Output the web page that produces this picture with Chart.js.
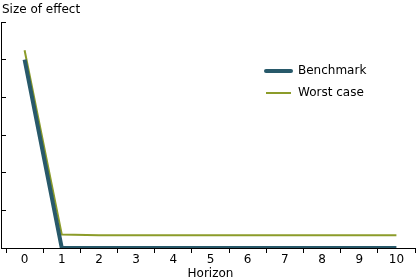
<!DOCTYPE html>
<html>
<head>
<meta charset="utf-8">
<script src="https://cdn.jsdelivr.net/npm/chart.js@4"></script>
<style>
  html, body { margin: 0; padding: 0; background: #fff; }
  #wrap { width: 420px; height: 280px; }
</style>
</head>
<body>
<div id="wrap"><canvas id="effectChart"></canvas></div>
<script>
// data
const horizon = ["0", "1", "2", "3", "4", "5", "6", "7", "8", "9", "10"];
const benchmark = [5, 0, 0, 0, 0, 0, 0, 0, 0, 0, 0];
const worstCase = [5.25, 0.36, 0.34, 0.34, 0.34, 0.34, 0.34, 0.34, 0.34, 0.34, 0.34];

const fontFamily = 'Verdana, "DejaVu Sans", sans-serif';

// title and legend text drawn on the canvas
const decorations = {
    id: 'decorations',
    afterDraw(chart) {
        const c = chart.ctx;
        c.save();
        c.fillStyle = '#000';
        c.font = '12px ' + fontFamily;
        c.textBaseline = 'middle';
        c.textAlign = 'left';
        c.fillText('Size of effect', 2, 10);

        // legend
        chart.data.datasets.forEach(function(ds, i) {
            const y = 71 + i * 22;
            c.strokeStyle = ds.borderColor;
            c.lineWidth = ds.borderWidth;
            c.lineCap = i === 0 ? 'round' : 'butt';
            c.beginPath();
            c.moveTo(266, y);
            c.lineTo(291, y);
            c.stroke();
            c.fillStyle = '#000';
            c.fillText(ds.label, 298, y);
        });
        c.restore();
    }
};

new Chart(document.getElementById('effectChart'), {
    type: 'line',
    data: {
        labels: horizon,
        datasets: [
            {
                label: 'Benchmark',
                data: benchmark,
                borderColor: '#28596a',
                borderWidth: 4,
                pointRadius: 0,
                tension: 0
            },
            {
                label: 'Worst case',
                data: worstCase,
                borderColor: '#8c9c2a',
                borderWidth: 2,
                pointRadius: 0,
                tension: 0
            }
        ]
    },
    options: {
        responsive: true,
        maintainAspectRatio: false,
        animation: false,
        layout: { padding: { top: 22, right: 5, left: 6, bottom: 0 } },
        plugins: {
            legend: { display: false },
            tooltip: { enabled: false }
        },
        scales: {
            x: {
                offset: true,
                grid: {
                    offset: true,
                    drawOnChartArea: false,
                    drawTicks: true,
                    tickLength: 5,
                    color: '#000'
                },
                border: { color: '#000', width: 1 },
                ticks: {
                    color: '#000',
                    font: { family: fontFamily, size: 12, lineHeight: 1 },
                    padding: 1,
                    maxRotation: 0
                },
                title: {
                    display: true,
                    text: 'Horizon',
                    color: '#000',
                    font: { family: fontFamily, size: 12, lineHeight: 1 },
                    padding: { top: 1, bottom: 0 }
                }
            },
            y: {
                min: 0,
                max: 6,
                grid: {
                    drawOnChartArea: false,
                    drawTicks: true,
                    tickLength: -5,
                    color: '#000'
                },
                border: { color: '#000', width: 1 },
                ticks: {
                    stepSize: 1,
                    display: false
                }
            }
        }
    },
    plugins: [decorations]
});
</script>
</body>
</html>
